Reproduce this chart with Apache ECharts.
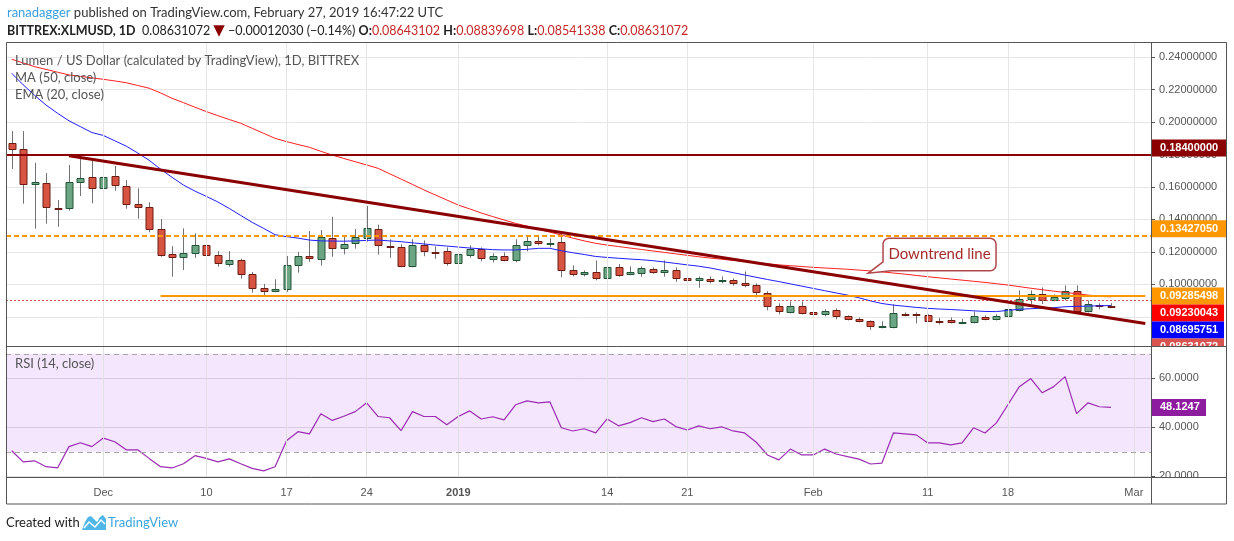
<!DOCTYPE html>
<html>
<head>
<meta charset="utf-8">
<title>XLMUSD 1D</title>
<script src="https://cdn.jsdelivr.net/npm/echarts@6/dist/echarts.min.js"></script>
<style>
    html, body { margin: 0; padding: 0; background: #fff; }
    #container { width: 1234px; height: 541px; }
</style>
</head>
<body>
<div id="container"></div>
<script>
// daily categories (last 3 days are empty space on the right)
var dates = ['Nov 23', 'Nov 24', 'Nov 25', 'Nov 26', 'Nov 27', 'Nov 28', 'Nov 29', 'Nov 30',
    'Dec 01', 'Dec 02', 'Dec 03', 'Dec 04', 'Dec 05', 'Dec 06', 'Dec 07', 'Dec 08', 'Dec 09', 'Dec 10',
    'Dec 11', 'Dec 12', 'Dec 13', 'Dec 14', 'Dec 15', 'Dec 16', 'Dec 17', 'Dec 18', 'Dec 19', 'Dec 20',
    'Dec 21', 'Dec 22', 'Dec 23', 'Dec 24', 'Dec 25', 'Dec 26', 'Dec 27', 'Dec 28', 'Dec 29', 'Dec 30', 'Dec 31',
    'Jan 01', 'Jan 02', 'Jan 03', 'Jan 04', 'Jan 05', 'Jan 06', 'Jan 07', 'Jan 08', 'Jan 09', 'Jan 10',
    'Jan 11', 'Jan 12', 'Jan 13', 'Jan 14', 'Jan 15', 'Jan 16', 'Jan 17', 'Jan 18', 'Jan 19', 'Jan 20',
    'Jan 21', 'Jan 22', 'Jan 23', 'Jan 24', 'Jan 25', 'Jan 26', 'Jan 27', 'Jan 28', 'Jan 29', 'Jan 30', 'Jan 31',
    'Feb 01', 'Feb 02', 'Feb 03', 'Feb 04', 'Feb 05', 'Feb 06', 'Feb 07', 'Feb 08', 'Feb 09', 'Feb 10',
    'Feb 11', 'Feb 12', 'Feb 13', 'Feb 14', 'Feb 15', 'Feb 16', 'Feb 17', 'Feb 18', 'Feb 19', 'Feb 20',
    'Feb 21', 'Feb 22', 'Feb 23', 'Feb 24', 'Feb 25', 'Feb 26', 'Feb 27', 'Feb 28', 'Mar 01', 'Mar 02'];

var tickDates = ['Dec 01', 'Dec 10', 'Dec 17', 'Dec 24', 'Jan 01', 'Jan 14', 'Jan 21', 'Feb 01', 'Feb 11', 'Feb 18', 'Mar 01'];
var tickLabels = ['Dec', '10', '17', '24', '2019', '14', '21', 'Feb', '11', '18', 'Mar'];

var openArr = [0.1870, 0.1833, 0.1617, 0.1623, 0.1471, 0.1469, 0.1629, 0.1660, 0.1592, 0.1666,
    0.1604, 0.1493, 0.1475, 0.1339, 0.1185, 0.1167, 0.1191, 0.1241, 0.1179, 0.1123,
    0.1148, 0.1062, 0.0975, 0.0954, 0.0969, 0.1117, 0.1173, 0.1154, 0.1284, 0.1222,
    0.1253, 0.1284, 0.1339, 0.1234, 0.1228, 0.1111, 0.1241, 0.1201, 0.1204, 0.1130,
    0.1179, 0.1216, 0.1154, 0.1173, 0.1148, 0.1241, 0.1265, 0.1252, 0.1259, 0.1086,
    0.1062, 0.1074, 0.1037, 0.1105, 0.1062, 0.1068, 0.1093, 0.1074, 0.1086, 0.1037,
    0.1025, 0.1031, 0.1019, 0.1025, 0.1006, 0.0994, 0.0945, 0.0864, 0.0827, 0.0864,
    0.0827, 0.0815, 0.0840, 0.0803, 0.0784, 0.0772, 0.0739, 0.0735, 0.0815, 0.0815,
    0.0809, 0.0777, 0.0778, 0.0768, 0.0766, 0.0797, 0.0784, 0.0803, 0.0841, 0.0909,
    0.0938, 0.0901, 0.0914, 0.0957, 0.0833, 0.0870, 0.08643102];
var highArr = [0.1945, 0.1945, 0.1750, 0.1686, 0.1520, 0.1736, 0.1773, 0.1762, 0.1750, 0.1730,
    0.1643, 0.1592, 0.1506, 0.1403, 0.1236, 0.1345, 0.1315, 0.1273, 0.1205, 0.1205,
    0.1158, 0.1076, 0.1002, 0.1031, 0.1175, 0.1199, 0.1329, 0.1335, 0.1417, 0.1292,
    0.1341, 0.1483, 0.1368, 0.1278, 0.1247, 0.1278, 0.1271, 0.1234, 0.1228, 0.1204,
    0.1241, 0.1228, 0.1191, 0.1197, 0.1278, 0.1302, 0.1302, 0.1284, 0.1329, 0.1117,
    0.1086, 0.1148, 0.1136, 0.1125, 0.1111, 0.1111, 0.1105, 0.1148, 0.1105, 0.1049,
    0.1049, 0.1049, 0.1049, 0.1037, 0.1080, 0.1006, 0.0957, 0.0883, 0.0895, 0.0895,
    0.0856, 0.0846, 0.0852, 0.0809, 0.0796, 0.0778, 0.0772, 0.0877, 0.0827, 0.0827,
    0.0815, 0.0794, 0.0796, 0.0788, 0.0833, 0.0809, 0.0815, 0.0864, 0.0963, 0.0963,
    0.0981, 0.0938, 0.0994, 0.0994, 0.0901, 0.0883, 0.08839698];
var lowArr = [0.1711, 0.1497, 0.1343, 0.1374, 0.1355, 0.1454, 0.1545, 0.1500, 0.1540, 0.1577,
    0.1466, 0.1405, 0.1321, 0.1170, 0.1047, 0.1088, 0.1164, 0.1146, 0.1109, 0.1109,
    0.1035, 0.0948, 0.0924, 0.0952, 0.0954, 0.1072, 0.1139, 0.1115, 0.1170, 0.1185,
    0.1220, 0.1263, 0.1183, 0.1164, 0.1105, 0.1105, 0.1173, 0.1158, 0.1115, 0.1115,
    0.1164, 0.1142, 0.1136, 0.1142, 0.1136, 0.1204, 0.1241, 0.1228, 0.1043, 0.1049,
    0.1049, 0.1025, 0.1022, 0.1047, 0.1056, 0.1047, 0.1065, 0.1047, 0.1016, 0.1016,
    0.0979, 0.1006, 0.1006, 0.0991, 0.0982, 0.0920, 0.0840, 0.0815, 0.0821, 0.0815,
    0.0796, 0.0803, 0.0784, 0.0778, 0.0766, 0.0720, 0.0729, 0.0729, 0.0803, 0.0759,
    0.0769, 0.0753, 0.0759, 0.0754, 0.0759, 0.0778, 0.0778, 0.0796, 0.0833, 0.0878,
    0.0878, 0.0895, 0.0901, 0.0821, 0.0827, 0.0846, 0.08541338];
var closeArr = [0.1833, 0.1617, 0.1631, 0.1475, 0.1467, 0.1629, 0.1654, 0.1592, 0.1660, 0.1611,
    0.1493, 0.1475, 0.1339, 0.1179, 0.1167, 0.1191, 0.1241, 0.1179, 0.1130, 0.1148,
    0.1062, 0.0975, 0.0954, 0.0969, 0.1117, 0.1175, 0.1160, 0.1290, 0.1222, 0.1247,
    0.1290, 0.1345, 0.1241, 0.1228, 0.1111, 0.1241, 0.1204, 0.1198, 0.1130, 0.1185,
    0.1216, 0.1160, 0.1173, 0.1148, 0.1241, 0.1265, 0.1253, 0.1253, 0.1086, 0.1062,
    0.1074, 0.1037, 0.1105, 0.1056, 0.1074, 0.1099, 0.1074, 0.1086, 0.1037, 0.1025,
    0.1037, 0.1019, 0.1025, 0.1006, 0.0994, 0.0951, 0.0864, 0.0833, 0.0864, 0.0821,
    0.0815, 0.0833, 0.0803, 0.0784, 0.0772, 0.0741, 0.0741, 0.0821, 0.0807, 0.0807,
    0.0774, 0.0775, 0.0767, 0.0770, 0.0803, 0.0784, 0.0803, 0.0846, 0.0907, 0.0938,
    0.0901, 0.0920, 0.0957, 0.0833, 0.0877, 0.0864, 0.08631072];

var ma50Arr = [0.2388, 0.2365, 0.2342, 0.2325, 0.2308, 0.2291, 0.2282, 0.2273, 0.2264, 0.2254,
    0.2243, 0.2226, 0.2209, 0.2180, 0.2147, 0.2120, 0.2092, 0.2065, 0.2040, 0.2016,
    0.1993, 0.1962, 0.1931, 0.1900, 0.1880, 0.1862, 0.1845, 0.1820, 0.1797, 0.1776,
    0.1756, 0.1736, 0.1715, 0.1682, 0.1649, 0.1616, 0.1582, 0.1551, 0.1520, 0.1489,
    0.1465, 0.1440, 0.1418, 0.1397, 0.1376, 0.1359, 0.1339, 0.1322, 0.1304, 0.1285,
    0.1268, 0.1253, 0.1242, 0.1233, 0.1224, 0.1215, 0.1206, 0.1197, 0.1188, 0.1179,
    0.1170, 0.1162, 0.1155, 0.1148, 0.1141, 0.1134, 0.1127, 0.1120, 0.1115, 0.1110,
    0.1105, 0.1101, 0.1097, 0.1093, 0.1088, 0.1083, 0.1077, 0.1070, 0.1063, 0.1055,
    0.1047, 0.1040, 0.1033, 0.1026, 0.1019, 0.1012, 0.1004, 0.0996, 0.0986, 0.0976,
    0.0967, 0.0958, 0.0950, 0.0942, 0.0934, 0.0926, 0.09230043];
var ema20Arr = [0.2301, 0.2230, 0.2165, 0.2105, 0.2055, 0.2008, 0.1972, 0.1936, 0.1918, 0.1885,
    0.1852, 0.1810, 0.1765, 0.1710, 0.1660, 0.1612, 0.1575, 0.1542, 0.1508, 0.1468,
    0.1425, 0.1382, 0.1345, 0.1306, 0.1294, 0.1285, 0.1273, 0.1268, 0.1267, 0.1266,
    0.1268, 0.1271, 0.1273, 0.1268, 0.1263, 0.1256, 0.1249, 0.1242, 0.1236, 0.1230,
    0.1224, 0.1219, 0.1214, 0.1212, 0.1212, 0.1216, 0.1222, 0.1222, 0.1207, 0.1195,
    0.1184, 0.1172, 0.1166, 0.1161, 0.1156, 0.1152, 0.1146, 0.1138, 0.1129, 0.1120,
    0.1112, 0.1101, 0.1087, 0.1072, 0.1058, 0.1044, 0.1030, 0.1017, 0.1003, 0.0989,
    0.0975, 0.0961, 0.0947, 0.0934, 0.0917, 0.0898, 0.0882, 0.0872, 0.0865, 0.0858,
    0.0852, 0.0848, 0.0845, 0.0841, 0.0837, 0.0833, 0.0832, 0.0840, 0.0846, 0.0850,
    0.0853, 0.0856, 0.0862, 0.0864, 0.0866, 0.0868, 0.08695751];
var rsiArr = [30.4, 25.9, 26.3, 23.9, 23.4, 32.1, 33.7, 32.1, 35.6, 34.1,
    30.8, 30.8, 27.3, 23.9, 23.4, 25.1, 28.4, 27.3, 25.9, 27.1,
    25.1, 23.2, 22.2, 23.9, 34.5, 38.2, 37.3, 45.5, 42.8, 44.5,
    46.4, 50.0, 44.4, 43.9, 38.6, 46.4, 44.4, 44.4, 41.0, 44.4,
    46.7, 43.4, 44.3, 43.0, 49.2, 50.8, 50.0, 50.4, 39.8, 38.5,
    39.4, 37.7, 43.4, 40.6, 41.9, 43.9, 42.3, 43.4, 40.3, 38.9,
    40.6, 39.4, 40.2, 38.5, 37.7, 34.0, 28.7, 26.7, 31.1, 28.7,
    28.7, 31.1, 29.1, 28.0, 27.0, 25.0, 25.4, 37.7, 37.3, 36.9,
    33.6, 33.6, 32.8, 33.6, 39.8, 37.7, 41.8, 49.2, 56.6, 59.9,
    54.1, 56.6, 60.7, 45.6, 50.0, 48.4, 48.1247];

// drawings
var resistanceTop = 0.18400000;
var resistanceDashed = 0.13427050;
var supportLevel = 0.09285498;
var supportFrom = 'Dec 06';
var lastDate = 'Mar 02';
var trendStart = ['Nov 28', 0.1793];
var trendEnd = ['Mar 02', 0.0759];
var calloutAnchor = ['Feb 05', 0.1068];
var lastPrice = 0.08631072;
var rsiUpper = 70, rsiLower = 30;

var axisFont = '"Liberation Sans", Arial, sans-serif';
var textFont = 'Lato, "Open Sans", sans-serif';

var candleData = [];
for (var i = 0; i < closeArr.length; i++) {
    candleData.push([i, openArr[i], highArr[i], lowArr[i], closeArr[i]]);
}

function isTickDate(index, value) {
    return tickDates.indexOf(value) >= 0;
}
function tickText(value) {
    var k = tickDates.indexOf(value);
    if (k < 0) return '';
    return tickLabels[k] == '2019' ? '{b|2019}' : tickLabels[k];
}
function onStep(v, step) {
    return Math.abs(v / step - Math.round(v / step)) < 1e-6;
}

function renderCandle(params, api) {
    var idx = api.value(0);
    var x = Math.round(api.coord([idx, api.value(1)])[0]) + 0.5;
    var yO = api.coord([idx, api.value(1)])[1];
    var yH = api.coord([idx, api.value(2)])[1];
    var yL = api.coord([idx, api.value(3)])[1];
    var yC = api.coord([idx, api.value(4)])[1];
    var w = Math.round(api.size([1, 0])[0] * 0.58);
    var up = api.value(4) >= api.value(1);
    var top = Math.round(Math.min(yO, yC)) + 0.5;
    var h = Math.max(Math.round(Math.abs(yO - yC)), 1);
    return {
        type: 'group',
        children: [
            { type: 'line', shape: { x1: x, y1: yH, x2: x, y2: yL }, style: { stroke: '#737375', lineWidth: 1 } },
            {
                type: 'rect',
                shape: { x: x - w / 2, y: top, width: w, height: h },
                style: { fill: up ? '#6ba583' : '#d75442', stroke: up ? '#225437' : '#6b1c13', lineWidth: 1 }
            }
        ]
    };
}

var vGrid = tickDates.map(function (d) { return { xAxis: d }; });

var myChart = echarts.init(document.getElementById('container'));

option = {
    animation: false,
    backgroundColor: '#ffffff',
    grid: [
        { left: 6, right: 83, top: 42, height: 304 },
        { left: 6, right: 83, top: 346, height: 131 }
    ],
    xAxis: [
        {
            gridIndex: 0, type: 'category', data: dates, boundaryGap: true,
            axisLine: { show: false }, axisTick: { show: false }, axisLabel: { show: false },
            splitLine: { show: false }
        },
        {
            gridIndex: 1, type: 'category', data: dates, boundaryGap: true,
            axisLine: { show: false }, axisTick: { show: false },
            splitLine: { show: false },
            axisLabel: {
                interval: isTickDate,
                formatter: tickText,
                color: '#555', fontSize: 11, fontFamily: axisFont, margin: 10,
                rich: { b: { fontWeight: 'bold', color: '#555', fontSize: 11, fontFamily: axisFont } }
            }
        }
    ],
    yAxis: [
        {
            gridIndex: 0, type: 'value', position: 'right',
            min: 0.0620, max: 0.2494, splitNumber: 9,
            axisLine: { show: false },
            axisTick: { show: true, length: 4, lineStyle: { color: '#555' } },
            axisLabel: {
                color: '#555', fontSize: 11, fontFamily: axisFont, margin: 8,
                formatter: function (v) { return onStep(v, 0.02) ? v.toFixed(8) : ''; }
            },
            splitLine: { lineStyle: { color: '#e6e6e6' } }
        },
        {
            gridIndex: 1, type: 'value', position: 'right',
            min: 19.7, max: 73.2, splitNumber: 3,
            axisLine: { show: false },
            axisTick: { show: true, length: 4, lineStyle: { color: '#555' } },
            axisLabel: {
                color: '#555', fontSize: 11, fontFamily: axisFont, margin: 8,
                formatter: function (v) { return onStep(v, 20) ? v.toFixed(4) : ''; }
            },
            splitLine: { lineStyle: { color: '#e0e0e0' } }
        }
    ],
    series: [
        {
            name: 'grid-main', type: 'line', xAxisIndex: 0, yAxisIndex: 0, data: [], z: 1, silent: true,
            markLine: {
                silent: true, symbol: 'none', label: { show: false },
                lineStyle: { color: '#e6e6e6', type: 'solid', width: 1 },
                data: vGrid
            }
        },
        {
            name: 'Lumen', type: 'custom', xAxisIndex: 0, yAxisIndex: 0, z: 3,
            renderItem: renderCandle,
            encode: { x: 0, y: [1, 2, 3, 4] },
            data: candleData
        },
        {
            name: 'MA (50, close)', type: 'line', xAxisIndex: 0, yAxisIndex: 0, z: 4,
            data: ma50Arr, symbol: 'none', silent: true,
            lineStyle: { color: '#ff1f1f', width: 1 }
        },
        {
            name: 'EMA (20, close)', type: 'line', xAxisIndex: 0, yAxisIndex: 0, z: 4,
            data: ema20Arr, symbol: 'none', silent: true,
            lineStyle: { color: '#1f1fff', width: 1 }
        },
        {
            name: 'Downtrend', type: 'line', xAxisIndex: 0, yAxisIndex: 0, z: 5,
            data: [trendStart, trendEnd], symbol: 'none', silent: true,
            lineStyle: { color: '#8b0000', width: 3 },
            markLine: {
                silent: true, symbol: 'none', label: { show: false },
                data: [
                    { yAxis: resistanceTop, lineStyle: { color: '#8b0000', width: 2, type: 'solid' } },
                    { yAxis: resistanceDashed, lineStyle: { color: '#ff9800', width: 2, type: [5, 3] } },
                    [
                        { coord: [supportFrom, supportLevel], lineStyle: { color: '#ff9800', width: 2, type: 'solid' } },
                        { coord: [lastDate, supportLevel] }
                    ],
                    { yAxis: lastPrice, lineStyle: { color: '#d9534f', width: 1, type: [2, 2] } }
                ]
            }
        },
        {
            name: 'grid-rsi', type: 'line', xAxisIndex: 1, yAxisIndex: 1, data: [], z: 1, silent: true,
            markLine: {
                silent: true, symbol: 'none', label: { show: false },
                lineStyle: { color: '#e0e0e0', type: 'solid', width: 1 },
                data: vGrid
            }
        },
        {
            name: 'RSI (14, close)', type: 'line', xAxisIndex: 1, yAxisIndex: 1, z: 3,
            data: rsiArr, symbol: 'none', silent: true,
            lineStyle: { color: '#9c2cb4', width: 1.2 },
            markArea: {
                silent: true,
                itemStyle: { color: 'rgba(150, 30, 240, 0.11)' },
                data: [[{ yAxis: rsiLower }, { yAxis: rsiUpper }]]
            },
            markLine: {
                silent: true, symbol: 'none', label: { show: false },
                lineStyle: { color: '#a6a6a6', type: [5, 4], width: 1 },
                data: [{ yAxis: rsiUpper }, { yAxis: rsiLower }]
            }
        }
    ]
};
myChart.setOption(option);

// price tags, frame, texts and the callout
function priceY(v) { return myChart.convertToPixel({ yAxisIndex: 0 }, v); }
function rsiY(v) { return myChart.convertToPixel({ yAxisIndex: 1 }, v); }

function tag(y, text, color, width) {
    return [
        { type: 'rect', z: 100, shape: { x: 1151, y: y - 8.5, width: width, height: 17 }, style: { fill: color } },
        {
            type: 'text', z: 101, x: 1160, y: y,
            style: { text: text, fill: '#fff', font: 'bold 11px ' + axisFont, verticalAlign: 'middle' }
        }
    ];
}

var stack = [
    { v: supportLevel, color: '#ff9800' },
    { v: ma50Arr[ma50Arr.length - 1], color: '#ff0000' },
    { v: ema20Arr[ema20Arr.length - 1], color: '#0000ff' },
    { v: lastPrice, color: '#d9534f' }
];
var prevY = -1000;
var graphics = [];
graphics = graphics.concat(tag(priceY(resistanceTop), resistanceTop.toFixed(8), '#8b0000', 76));
graphics = graphics.concat(tag(priceY(resistanceDashed), resistanceDashed.toFixed(8), '#ff9800', 76));
for (var k = 0; k < stack.length; k++) {
    var yy = Math.max(priceY(stack[k].v), prevY + 17);
    prevY = yy;
    graphics = graphics.concat(tag(yy, stack[k].v.toFixed(8), stack[k].color, 73));
}
graphics = graphics.concat(tag(rsiY(rsiArr[rsiArr.length - 1]), rsiArr[rsiArr.length - 1].toFixed(4), '#8e1c9e', 55));

// clip what runs below the panes
graphics.push({ type: 'rect', z: 110, shape: { x: 1152, y: 347, width: 74, height: 14 }, style: { fill: '#fff' } });
graphics.push({ type: 'rect', z: 110, shape: { x: 1152, y: 478, width: 74, height: 12 }, style: { fill: '#fff' } });

// frame
graphics.push({ type: 'rect', z: 120, shape: { x: 6.5, y: 42.5, width: 1220, height: 461.5 }, style: { stroke: '#555', lineWidth: 1, fill: 'transparent' } });
graphics.push({ type: 'line', z: 120, shape: { x1: 1151.5, y1: 42, x2: 1151.5, y2: 504 }, style: { stroke: '#555', lineWidth: 1 } });
graphics.push({ type: 'line', z: 120, shape: { x1: 6, y1: 346.5, x2: 1227, y2: 346.5 }, style: { stroke: '#555', lineWidth: 1 } });
graphics.push({ type: 'line', z: 120, shape: { x1: 6, y1: 477.5, x2: 1227, y2: 477.5 }, style: { stroke: '#555', lineWidth: 1 } });

// header
graphics.push({
    type: 'text', z: 130, x: 7, y: 13,
    style: {
        text: '{u|ranadagger} published on TradingView.com, February 27, 2019 16:47:22 UTC',
        font: '13px ' + textFont, fill: '#333', verticalAlign: 'middle',
        rich: { u: { fill: '#3a9fe0', font: '13px ' + textFont } }
    }
});
graphics.push({
    type: 'text', z: 130, x: 7, y: 31,
    style: {
        text: '{b|BITTREX:XLMUSD, 1D}  0.08631072 {d|\u25BC} \u22120.00012030 (\u22120.14%) {b|O:}{r|0.08643102} {b|H:}{r|0.08839698} {b|L:}{r|0.08541338} {b|C:}{r|0.08631072}',
        font: '12.5px ' + textFont, fill: '#222', verticalAlign: 'middle',
        rich: {
            b: { font: 'bold 12.5px ' + textFont, fill: '#222' },
            d: { font: '15px "DejaVu Sans", sans-serif', fill: '#8b0000' },
            r: { font: '12.5px ' + textFont, fill: '#c62828' }
        }
    }
});

// legends
function legendText(x, y, s) {
    return { type: 'text', z: 130, x: x, y: y, style: { text: s, font: '13px ' + textFont, fill: '#555', verticalAlign: 'middle' } };
}
graphics.push(legendText(15, 61, 'Lumen / US Dollar (calculated by TradingView), 1D, BITTREX'));
graphics.push(legendText(15, 78, 'MA (50, close)'));
graphics.push(legendText(15, 95, 'EMA (20, close)'));
graphics.push(legendText(15, 364, 'RSI (14, close)'));

// callout "Downtrend line", tip anchored on a date/price
var tip = myChart.convertToPixel({ xAxisIndex: 0, yAxisIndex: 0 }, calloutAnchor);
var tx = tip[0] + 9, ty = tip[1];
var L = tx + 15, T = ty - 35, R = tx + 128, B = ty - 2.5, r = 6;
var pts = [[L, B - 9], [tx, ty], [L + 8, B]];
function arc(cx, cy, a0, a1) {
    for (var s = 0; s <= 6; s++) {
        var a = (a0 + (a1 - a0) * s / 6) * Math.PI / 180;
        pts.push([cx + r * Math.cos(a), cy + r * Math.sin(a)]);
    }
}
arc(R - r, B - r, 90, 0);
arc(R - r, T + r, 0, -90);
arc(L + r, T + r, -90, -180);
graphics.push({ type: 'polygon', z: 140, shape: { points: pts }, style: { fill: '#ffffff', stroke: '#b0484c', lineWidth: 1.5 } });
graphics.push({
    type: 'text', z: 141, x: (L + R) / 2, y: (T + B) / 2,
    style: { text: 'Downtrend line', font: '15px ' + textFont, fill: '#a52a2a', align: 'center', verticalAlign: 'middle' }
});

// footer
graphics.push({ type: 'text', z: 130, x: 6, y: 523, style: { text: 'Created with', font: '13px ' + textFont, fill: '#222', verticalAlign: 'middle' } });
graphics.push({
    type: 'polygon', z: 130,
    shape: { points: [[82, 530], [85, 522], [88, 517], [91, 516], [94, 519], [97, 522], [100, 517], [103, 515], [106, 519], [106, 530]] },
    style: { fill: '#4fb6e8' }
});
graphics.push({
    type: 'polyline', z: 131,
    shape: { points: [[84, 528], [89, 522], [95, 527], [101, 520], [105, 524]] },
    style: { stroke: '#ffffff', lineWidth: 1.5, fill: 'transparent' }
});
graphics.push({ type: 'text', z: 130, x: 108, y: 523, style: { text: 'TradingView', font: '13px ' + textFont, fill: '#3ca6e0', verticalAlign: 'middle' } });

myChart.setOption({ graphic: graphics });
</script>
</body>
</html>
